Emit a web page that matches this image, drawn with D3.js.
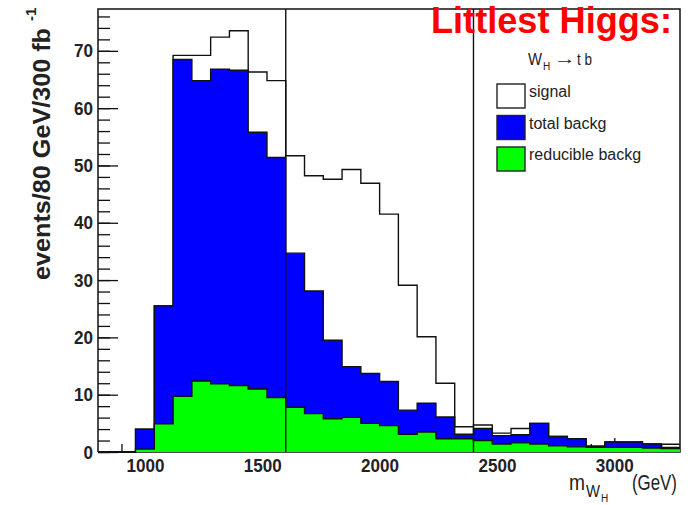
<!DOCTYPE html>
<html>
<head>
<meta charset="utf-8">
<script src="https://d3js.org/d3.v7.min.js"></script>
<style>
  body { margin: 0; background: #fff; }
  svg { display: block; font-family: "Liberation Sans", Arial, Helvetica, sans-serif; }
</style>
</head>
<body>
<script>
// histogram binning: 80 GeV bins from 800 to 3280 GeV
const binLow = 800;
const binWidth = 80;

// events per bin (signal is drawn as signal + background)
const signal = [0, 0, 4.0, 25.5, 69.2, 69.2, 72.4, 73.5, 66.3, 64.8,
  51.7, 48.2, 47.6, 49.3, 46.9, 41.5, 29.1, 20.1, 12.0, 4.4,
  4.7, 3.3, 4.1, 5.0, 2.7, 2.3, 1.0, 1.75, 1.75, 1.4, 1.35];
const totalBackg = [0, 0, 4.0, 25.5, 68.5, 64.8, 66.8, 66.6, 55.8, 51.4,
  34.7, 28.1, 19.5, 14.9, 13.7, 12.3, 7.3, 8.5, 6.1, 3.1,
  4.1, 2.85, 3.0, 5.0, 2.7, 2.3, 1.0, 1.75, 1.75, 1.4, 0.8];
const reducibleBackg = [0, 0, 0.5, 4.9, 9.7, 12.4, 11.9, 11.6, 11.0, 9.5,
  7.8, 6.7, 5.8, 6.05, 5.0, 4.6, 3.1, 3.5, 2.3, 2.3,
  2.0, 1.4, 1.6, 1.4, 1.1, 0.9, 0.8, 0.8, 0.8, 0.7, 0.6];

const xTicks = [1000, 1500, 2000, 2500, 3000];
const yTicks = [0, 10, 20, 30, 40, 50, 60, 70];
const cutLines = [1600, 2400];

const legendNames = ['signal', 'total backg', 'reducible backg'];
const legendColors = ['none', '#0000ff', '#00ff00'];

const width = 694, height = 505;
const plotLeft = 98, plotRight = 680, plotTop = 9, plotBottom = 452;

const svg = d3.select('body').append('svg')
  .attr('width', width)
  .attr('height', height);

const x = d3.scaleLinear().domain([800, 3280]).range([plotLeft, plotRight]);
const y = d3.scaleLinear().domain([0, 77.3]).range([plotBottom, plotTop]);

// axes first, so the filled histograms hide the ticks underneath
const yMinor = svg.append('g')
  .attr('transform', `translate(${plotLeft},0)`)
  .call(d3.axisLeft(y).tickValues(d3.range(0, 77, 2)).tickSize(-12).tickFormat(''));
const yMajor = svg.append('g')
  .attr('transform', `translate(${plotLeft},0)`)
  .call(d3.axisLeft(y).tickValues(yTicks).tickSize(-20).tickPadding(5).tickFormat(d3.format('d')));

const xMinor = svg.append('g')
  .attr('transform', `translate(0,${plotBottom})`)
  .call(d3.axisBottom(x).tickValues(d3.range(900, 3280, 100)).tickSize(-8).tickFormat(''));
const xMajor = svg.append('g')
  .attr('transform', `translate(0,${plotBottom})`)
  .call(d3.axisBottom(x).tickValues(xTicks).tickSize(-14).tickPadding(7).tickFormat(d3.format('d')));

[yMinor, yMajor, xMinor, xMajor].forEach(g => {
  g.select('.domain').remove();
  g.selectAll('line').attr('stroke', '#111').attr('stroke-width', 1.3);
  g.selectAll('text')
    .attr('font-family', '"Liberation Sans", Arial, sans-serif')
    .attr('font-size', 19)
    .attr('font-weight', 'bold')
    .attr('fill', '#222')
    .attr('textLength', function () { return this.textContent.length * 9.5; })
    .attr('lengthAdjust', 'spacingAndGlyphs');
});

// frame
svg.append('path')
  .attr('d', `M${plotLeft},${plotBottom}V${plotTop}H${plotRight}V${plotBottom}H${plotLeft}`)
  .attr('fill', 'none')
  .attr('stroke', '#111')
  .attr('stroke-width', 1.5);

const stepPoints = (vals) => {
  const pts = [[binLow, 0]];
  vals.forEach((v, i) => {
    const x0 = binLow + i * binWidth;
    pts.push([x0, v], [x0 + binWidth, v]);
  });
  pts.push([binLow + vals.length * binWidth, 0]);
  return pts;
};

const line = d3.line().x(d => x(d[0])).y(d => y(d[1]));

const hists = [
  { vals: signal, fill: 'none' },
  { vals: totalBackg, fill: '#0000ff' },
  { vals: reducibleBackg, fill: '#00ff00' },
];

hists.forEach(h => {
  if (h.fill !== 'none') {
    svg.append('path')
      .attr('d', line(stepPoints(h.vals)) + 'Z')
      .attr('fill', h.fill);
  }
  svg.append('path')
    .attr('d', line(stepPoints(h.vals).slice(1, -1)))
    .attr('fill', 'none')
    .attr('stroke', '#111')
    .attr('stroke-width', 1.4);
});

// cut lines
svg.selectAll('.cut')
  .data(cutLines)
  .enter()
  .append('line')
  .attr('class', 'cut')
  .attr('x1', d => x(d)).attr('x2', d => x(d))
  .attr('y1', plotTop).attr('y2', plotBottom)
  .attr('stroke', '#111')
  .attr('stroke-width', 1.4);

// y axis title
const yTitle = svg.append('g').attr('transform', 'translate(50,280) rotate(-90)');
yTitle.append('text')
  .attr('font-size', 24)
  .attr('font-weight', 'bold')
  .attr('fill', '#222')
  .attr('textLength', 252)
  .attr('lengthAdjust', 'spacingAndGlyphs')
  .text('events/80 GeV/300 fb');
yTitle.append('text')
  .attr('x', 259)
  .attr('y', -14)
  .attr('font-size', 15)
  .attr('font-weight', 'bold')
  .attr('fill', '#222')
  .text('-1');

// x axis title: m_{W_H} (GeV)
const xTitle = svg.append('g').attr('fill', '#222');
xTitle.append('text').attr('x', 569).attr('y', 490)
  .attr('font-size', 22).attr('textLength', 16).attr('lengthAdjust', 'spacingAndGlyphs').text('m');
xTitle.append('text').attr('x', 586).attr('y', 497)
  .attr('font-size', 16).attr('textLength', 14).attr('lengthAdjust', 'spacingAndGlyphs').text('W');
xTitle.append('text').attr('x', 601).attr('y', 502)
  .attr('font-size', 10).text('H');
xTitle.append('text').attr('x', 632).attr('y', 490)
  .attr('font-size', 22).attr('textLength', 45).attr('lengthAdjust', 'spacingAndGlyphs').text('(GeV)');

// legend
const legendTitle = svg.append('g').attr('fill', '#222');
legendTitle.append('text').attr('x', 528).attr('y', 65).attr('font-size', 17)
  .attr('textLength', 14).attr('lengthAdjust', 'spacingAndGlyphs').text('W');
legendTitle.append('text').attr('x', 543).attr('y', 70).attr('font-size', 10).text('H');
legendTitle.append('text').attr('x', 554).attr('y', 64).attr('font-size', 16)
  .attr('textLength', 22).attr('lengthAdjust', 'spacingAndGlyphs').text('\u2192');
legendTitle.append('text').attr('x', 577).attr('y', 65).attr('font-size', 16)
  .attr('textLength', 15).attr('lengthAdjust', 'spacingAndGlyphs').text('t b');

const legend = svg.selectAll('.legend')
  .data(legendNames)
  .enter()
  .append('g')
  .attr('class', 'legend')
  .attr('transform', (d, i) => `translate(497,${84 + i * 31.5})`);
legend.append('rect')
  .attr('width', 28).attr('height', 24)
  .attr('fill', (d, i) => legendColors[i] === 'none' ? '#fff' : legendColors[i])
  .attr('stroke', '#222')
  .attr('stroke-width', 1.4);
legend.append('text')
  .attr('x', 32).attr('y', 13)
  .attr('font-size', 16)
  .attr('fill', '#222')
  .text(d => d);

// plot label
svg.append('text')
  .attr('x', 431).attr('y', 33)
  .attr('font-size', 37)
  .attr('font-weight', 'bold')
  .attr('fill', '#ff0000')
  .attr('textLength', 241)
  .attr('lengthAdjust', 'spacingAndGlyphs')
  .text('Littlest Higgs:');
</script>
</body>
</html>
